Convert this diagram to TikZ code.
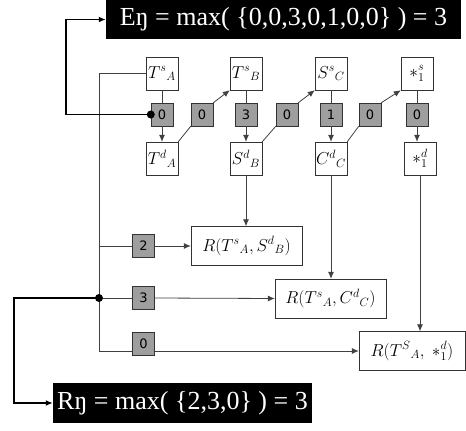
\documentclass[tikz,border=0pt]{standalone}
\usepackage{fontspec}
\setmainfont{Liberation Serif}
\setsansfont{DejaVu Sans}
\usetikzlibrary{positioning,arrows.meta}

\begin{document}
\begin{tikzpicture}[
      x=1pt, y=-1pt,
      >={Latex[length=7pt,width=6pt]},
      every node/.style={font=\fontsize{18}{21}\selectfont},
      link/.style={draw=black!75, line width=0.8pt},
      bold/.style={draw=black, line width=1.8pt},
      vtx/.style={draw=black!80, fill=white, minimum width=32pt, minimum height=33pt, inner sep=0pt},
      wbox/.style={draw=black!80, fill=black!38, minimum width=22pt, minimum height=23pt, inner sep=0pt, font=\fontsize{13}{15}\sffamily},
      rbox/.style={draw=black!80, fill=white, minimum height=39pt, inner sep=0pt},
      total/.style={fill=black, text=white, inner sep=0pt, font=\fontsize{26}{30}\selectfont},
      dot/.style={circle, fill=black, inner sep=0pt, minimum size=8pt}
    ]
      \useasboundingbox (0,0) rectangle (466,431);

      \node[total, minimum width=355pt, minimum height=39pt] (eBox) at (283.5,19.5) {Eŋ = max( \{0,0,3,0,1,0,0\} ) = 3};
      \node[total, minimum width=259pt, minimum height=40pt] (rBox) at (182.5,403) {Rŋ = max( \{2,3,0\} ) = 3};

      \node[vtx] (srcA) at (162,73.5) {$T^{s}{}_{A}$};
      \node[vtx] (srcB) at (246,73.5) {$T^{s}{}_{B}$};
      \node[vtx] (srcC) at (331,73.5) {$S^{s}{}_{C}$};
      \node[vtx] (srcD) at (417,73.5) {$*_{1}^{s}$};

      \node[wbox] (vA) at (162,114.5) {0};
      \node[wbox] (dAB) at (202,114.5) {0};
      \node[wbox] (vB) at (246,114.5) {3};
      \node[wbox] (dBC) at (287,114.5) {0};
      \node[wbox] (vC) at (331,114.5) {1};
      \node[wbox] (dCD) at (370,114.5) {0};
      \node[wbox] (vD) at (417,114.5) {0};

      \node[vtx] (dstA) at (162,158.5) {$T^{d}{}_{A}$};
      \node[vtx] (dstB) at (246,158.5) {$S^{d}{}_{B}$};
      \node[vtx] (dstC) at (331,158.5) {$C^{d}{}_{C}$};
      \node[vtx] (dstD) at (420,158.5) {$*_{1}^{d}$};

      \node[rbox, minimum width=111pt] (rB) at (246.5,246) {$R(T^{s}{}_{A}, S^{d}{}_{B})$};
      \node[rbox, minimum width=111pt] (rC) at (330.5,298.5) {$R(T^{s}{}_{A}, C^{d}{}_{C})$};
      \node[rbox, minimum width=106pt] (rD) at (412,351) {$R(T^{S}{}_{A},\ *_{1}^{d})$};

      \node[wbox] (wB) at (143.5,246) {2};
      \node[wbox] (wC) at (143.5,298) {3};
      \node[wbox] (wD) at (143.5,343.5) {0};

      % columns
      \draw[link] (srcA) -- (vA);
      \draw[link,->] (vA) -- (dstA);
      \draw[link] (srcB) -- (vB);
      \draw[link,->] (vB) -- (dstB);
      \draw[link] (srcC) -- (vC);
      \draw[link,->] (vC) -- (dstC);
      \draw[link] (srcD) -- (vD);
      \draw[link,->] (vD.south) -- (vD.south |- dstD.north);

      % hops to the next column
      \draw[link] (dstA.north east) -- (dAB.south west);
      \draw[link,->] (dAB.north east) -- (srcB.south west);
      \draw[link] (dstB.north east) -- (dBC.south west);
      \draw[link,->] (dBC.north east) -- (srcC.south west);
      \draw[link] (dstC.north east) -- (dCD.south west);
      \draw[link,->] (dCD.north east) -- (srcD.south west);

      \draw[link,->] (dstB) -- (dstB |- rB.north);
      \draw[link,->] (dstC) -- (dstC |- rC.north);
      \draw[link,->] (dstD) -- (dstD |- rD.north);

      % left trunk
      \coordinate (jB) at (99,246);
      \coordinate (jC) at (99,298);
      \coordinate (jD) at (99,351);
      \draw[link] (srcA.west) -| (jD);
      \draw[link] (jB) -- (wB.west);
      \draw[link,->] (wB.east) -- (rB.west);
      \draw[link] (jC) -- (wC.west);
      \draw[link,->] (wC.east) -- (rC.west);
      \draw[link] (jD) -- (jD -| wD.west);
      \draw[link,->] (jD -| wD.east) -- (rD.west);

      % totals
      \coordinate (eTurn) at (66,19.5);
      \coordinate (rTurn) at (14,403);
      \draw[bold,->] (vA.west) -| (eTurn) -- (eBox.west);
      \draw[bold,->] (jC) -| (rTurn) -- (rBox.west);
      \node[dot] (eDot) at (vA.west) {};
      \node[dot] (rDot) at (jC) {};
    \end{tikzpicture}
\end{document}
